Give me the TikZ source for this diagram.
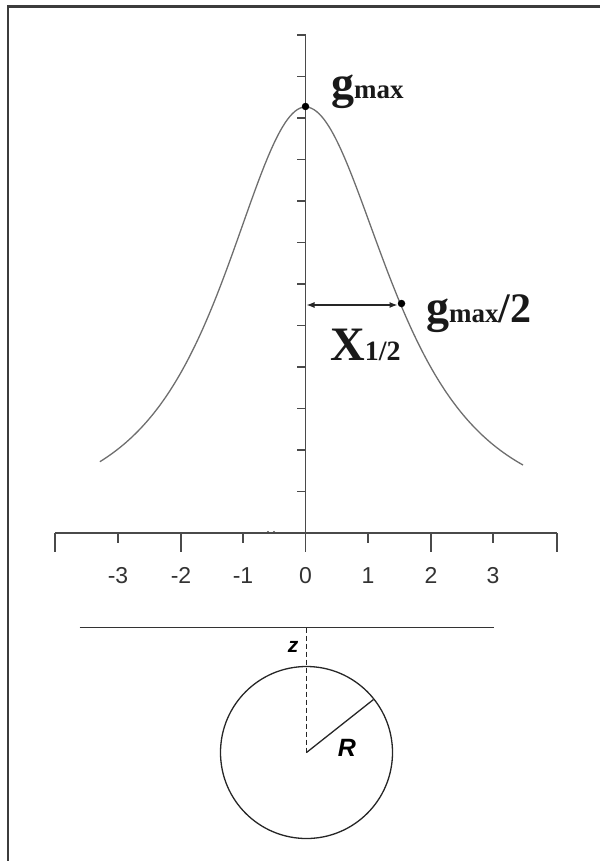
\documentclass[tikz,border=0pt]{standalone}
\usepackage{fontspec}
\setmainfont{Liberation Serif}
\setsansfont{Liberation Sans}
\usetikzlibrary{arrows.meta}
\definecolor{axc}{HTML}{4A4A4A}
\definecolor{curvec}{HTML}{6E6E6E}
\definecolor{bordc}{HTML}{3C3C3C}
\begin{document}
\begin{tikzpicture}[x=1pt,y=-1pt,
  axisline/.style={draw=axc,line width=1.4pt},
  tickline/.style={draw=axc,line width=1.2pt},
  curveline/.style={draw=curvec,line width=1.3pt},
  dotmark/.style={circle,fill=black,inner sep=0pt,minimum size=7.5pt},
  ticklab/.style={font=\sffamily\fontsize{23}{23}\selectfont,text=black!80,inner sep=0pt},
  biglab/.style={font=\bfseries,inner sep=0pt,text=black!90},
  geolab/.style={font=\sffamily\bfseries\itshape,inner sep=0pt},
  halfarrow/.style={draw=black!85,line width=1.2pt,{Latex[length=8pt,width=6pt]}-{Latex[length=8pt,width=6pt]}}
]
\useasboundingbox (0,0) rectangle (600,861);
% frame (top and left only)
\draw[line width=2.6pt,draw=bordc] (8,861) -- (8,6.5) -- (600,6.5);

% axes
\coordinate (ytop) at (305.5,35);
\coordinate (orig) at (305.5,533);
\coordinate (xl) at (55,533);
\coordinate (xr) at (557,533);
\draw[axisline] (ytop) -- (orig);
\draw[axisline] (xl) -- (xr);
% y ticks
\foreach \k in {0,...,11}
  \draw[tickline] (305.5,35+41.5*\k) -- ++(-8.5,0);
% x ticks
\foreach \x in {55,181,305.5,431,557}
  \draw[tickline] (\x,533) -- ++(0,19);
\foreach \x in {118,243,368,493}
  \draw[tickline] (\x,533) -- ++(0,10);
% small dark marks on x axis
\draw[line width=1.8pt,draw=axc] (288,532.5) -- (305,532.5);
\fill[axc] (268,532) circle (1.2);
\fill[axc] (274,532) circle (1.2);
% tick labels
\foreach \v/\x [count=\i] in {-3/118,-2/181,-1/243,0/305.5,1/368,2/431,3/493}
  \node[ticklab] (tl\i) at (\x,575.5) {\v};

% curve (left and right halves)
\draw[curveline] plot[domain=-3.28:0,samples=80,smooth]
  ({305.5+62.7*\x},{520-413/((1+(\x/2.0)^2)*sqrt(1+(\x/2.0)^2))})
  -- plot[domain=0:3.47,samples=80,smooth]
  ({305.5+62.7*\x},{520-413/((1+(\x/2.06)^2)*sqrt(1+(\x/2.06)^2))});

% points
\node[dotmark] (peak) at (305.5,106.5) {};
\node[dotmark] (half) at (401.5,303.5) {};
\coordinate (axhalf) at (306.5,305);
\coordinate (halfl) at (397.5,305);
\draw[halfarrow] (axhalf) -- (halfl);

% labels
\node[biglab,anchor=base west] (gmaxlab) at (331,98.5)
  {{\fontsize{46}{46}\selectfont g}{\fontsize{27}{27}\selectfont max}};
\node[biglab,anchor=base west] (ghalflab) at (426,322)
  {{\fontsize{46}{46}\selectfont g}{\fontsize{27}{27}\selectfont max}{\fontsize{42}{42}\selectfont /2}};
\node[biglab,anchor=base west] (xhalflab) at (330,360)
  {{\fontsize{48}{48}\selectfont X}{\fontsize{28}{28}\selectfont 1/2}};

% sphere geometry
\coordinate (surfl) at (79.5,627.5);
\coordinate (surfr) at (493.5,627.5);
\coordinate (surfc) at (306.5,627.5);
\coordinate (cen) at (306.5,752.5);
\coordinate (redge) at (373.5,699.5);
\draw[line width=1.9pt,draw=black!80] (surfl) -- (surfr);
\draw[line width=1.3pt,draw=black!85,dash pattern=on 5pt off 3pt] (surfc) -- (cen);
\draw[line width=1.3pt,draw=black!85] (cen) circle (86);
\draw[line width=1.3pt,draw=black!85] (cen) -- (redge);
\node[geolab,font=\sffamily\bfseries\itshape\fontsize{21}{21}\selectfont] (zlab) at (293,647) {z};
\node[geolab,font=\sffamily\bfseries\itshape\fontsize{25}{25}\selectfont] (Rlab) at (347,748) {R};
\end{tikzpicture}
\end{document}
